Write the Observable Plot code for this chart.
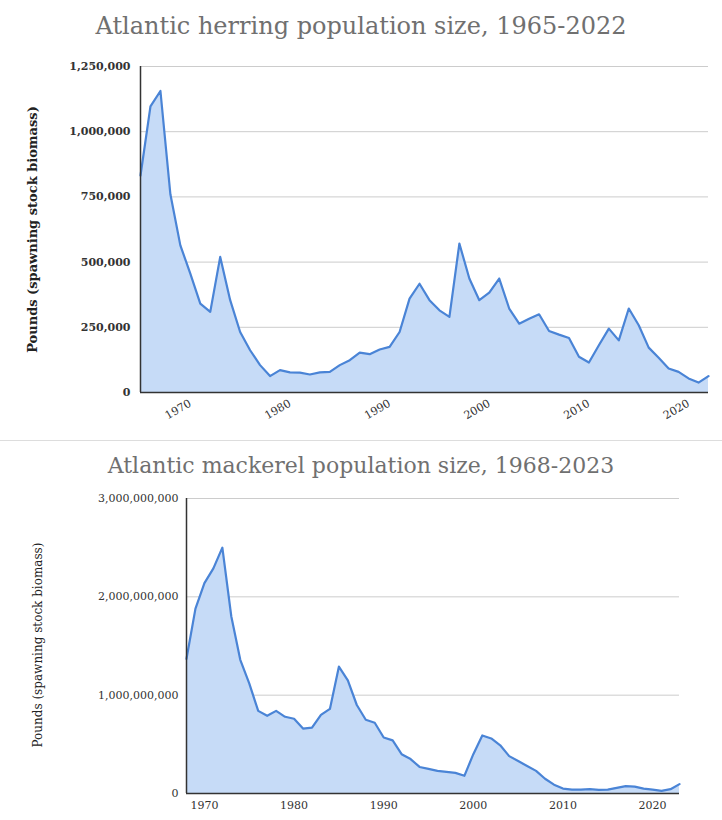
<!DOCTYPE html>
<html><head><meta charset="utf-8">
<script src="https://cdn.jsdelivr.net/npm/d3@7"></script>
<script src="https://cdn.jsdelivr.net/npm/@observablehq/plot@0.6"></script>
<style>
body{margin:0;background:#fff;width:722px;height:820px;position:relative;overflow:hidden;font-family:"DejaVu Serif",serif}
.t{position:absolute;left:0;width:722px;text-align:center;color:#707070;font-family:"DejaVu Serif",serif}
.c{position:absolute;left:0}
.yl{position:absolute;transform:rotate(-90deg);transform-origin:center;white-space:nowrap;color:#222}
</style></head><body>
<div class="t" style="top:12px;font-size:24px;left:0">Atlantic herring population size, 1965-2022</div>
<div class="c" id="topChart" style="top:0"></div>
<div class="yl" style="left:-98px;top:222px;width:260px;text-align:center;font-size:13px;font-weight:bold">Pounds (spawning stock biomass)</div>
<div style="position:absolute;top:440px;left:0;width:722px;border-top:1px solid #ddd"></div>
<div class="t" style="top:453px;font-size:22px">Atlantic mackerel population size, 1968-2023</div>
<div class="c" id="botChart" style="top:440px"></div>
<div class="yl" style="left:-92px;top:638px;width:260px;text-align:center;font-size:12px">Pounds (spawning stock biomass)</div>
<script>
const herringStart = 1965;
const herring = [832000,1097000,1156000,760000,564000,456000,341000,309000,520000,354000,232000,162000,105000,63000,86000,77000,76000,69000,77000,79000,105000,124000,153000,147000,165000,175000,232000,360000,417000,354000,315000,290000,571000,437000,354000,383000,437000,322000,264000,283000,300000,236000,222000,209000,137000,115000,181000,245000,200000,322000,258000,172000,133000,92000,79000,54000,38000,63000];
const mackerelStart = 1968;
const mackerel = [1.37,1.88,2.14,2.29,2.50,1.80,1.36,1.12,0.84,0.79,0.84,0.78,0.76,0.66,0.67,0.80,0.86,1.29,1.15,0.90,0.75,0.72,0.57,0.54,0.40,0.35,0.27,0.25,0.23,0.22,0.21,0.18,0.40,0.59,0.56,0.49,0.38,0.33,0.28,0.23,0.15,0.09,0.05,0.04,0.04,0.044,0.037,0.04,0.058,0.075,0.07,0.05,0.04,0.027,0.044,0.095].map(v=>v*1e9);
const herringYTicks = [0,250000,500000,750000,1000000,1250000];
const mackerelYTicks = [0,1e9,2e9,3e9];
const xTicks = [1970,1980,1990,2000,2010,2020];
const fillC = "#c6dbf7", strokeC = "#4a84d6";
const fmt = d3.format(",");

const hd = herring.map((v,i)=>({year:herringStart+i, v}));
const md = mackerel.map((v,i)=>({year:mackerelStart+i, v}));

const chartA = Plot.plot({
  width:722, height:440, marginLeft:140, marginRight:14, marginTop:66, marginBottom:48,
  style:{fontFamily:"DejaVu Serif, serif", fontSize:"11px", color:"#333"},
  x:{domain:[1965,2022], label:null},
  y:{domain:[0,1250000], label:null},
  marks:[
    Plot.gridY(herringYTicks,{stroke:"#ccc", strokeOpacity:1}),
    Plot.areaY(hd,{x:"year", y:"v", fill:fillC, fillOpacity:1}),
    Plot.lineY(hd,{x:"year", y:"v", stroke:strokeC, strokeWidth:2.2}),
    Plot.ruleY([0],{stroke:"#333", strokeWidth:1.5}),
    Plot.ruleX([1965],{stroke:"#333", strokeWidth:1.5}),
    Plot.axisY({ticks:herringYTicks, tickFormat:fmt, tickSize:0, tickPadding:10, fontWeight:"bold", label:null}),
    Plot.axisX({ticks:xTicks, tickFormat:d=>String(d), tickRotate:-30, tickSize:0, tickPadding:10, label:null})
  ]
});
document.getElementById("topChart").appendChild(chartA);

const chartB = Plot.plot({
  width:722, height:380, marginLeft:186, marginRight:43, marginTop:58, marginBottom:27,
  style:{fontFamily:"DejaVu Serif, serif", fontSize:"11px", color:"#333"},
  x:{domain:[1968,2023], label:null},
  y:{domain:[0,3e9], label:null},
  marks:[
    Plot.gridY(mackerelYTicks,{stroke:"#ccc", strokeOpacity:1}),
    Plot.areaY(md,{x:"year", y:"v", fill:fillC, fillOpacity:1}),
    Plot.lineY(md,{x:"year", y:"v", stroke:strokeC, strokeWidth:2.2}),
    Plot.ruleY([0],{stroke:"#333", strokeWidth:1.5}),
    Plot.ruleX([1968],{stroke:"#333", strokeWidth:1.5}),
    Plot.axisY({ticks:mackerelYTicks, tickFormat:fmt, tickSize:0, tickPadding:8, label:null}),
    Plot.axisX({ticks:xTicks, tickFormat:d=>String(d), tickSize:0, tickPadding:8, label:null})
  ]
});
document.getElementById("botChart").appendChild(chartB);
</script>
</body></html>
